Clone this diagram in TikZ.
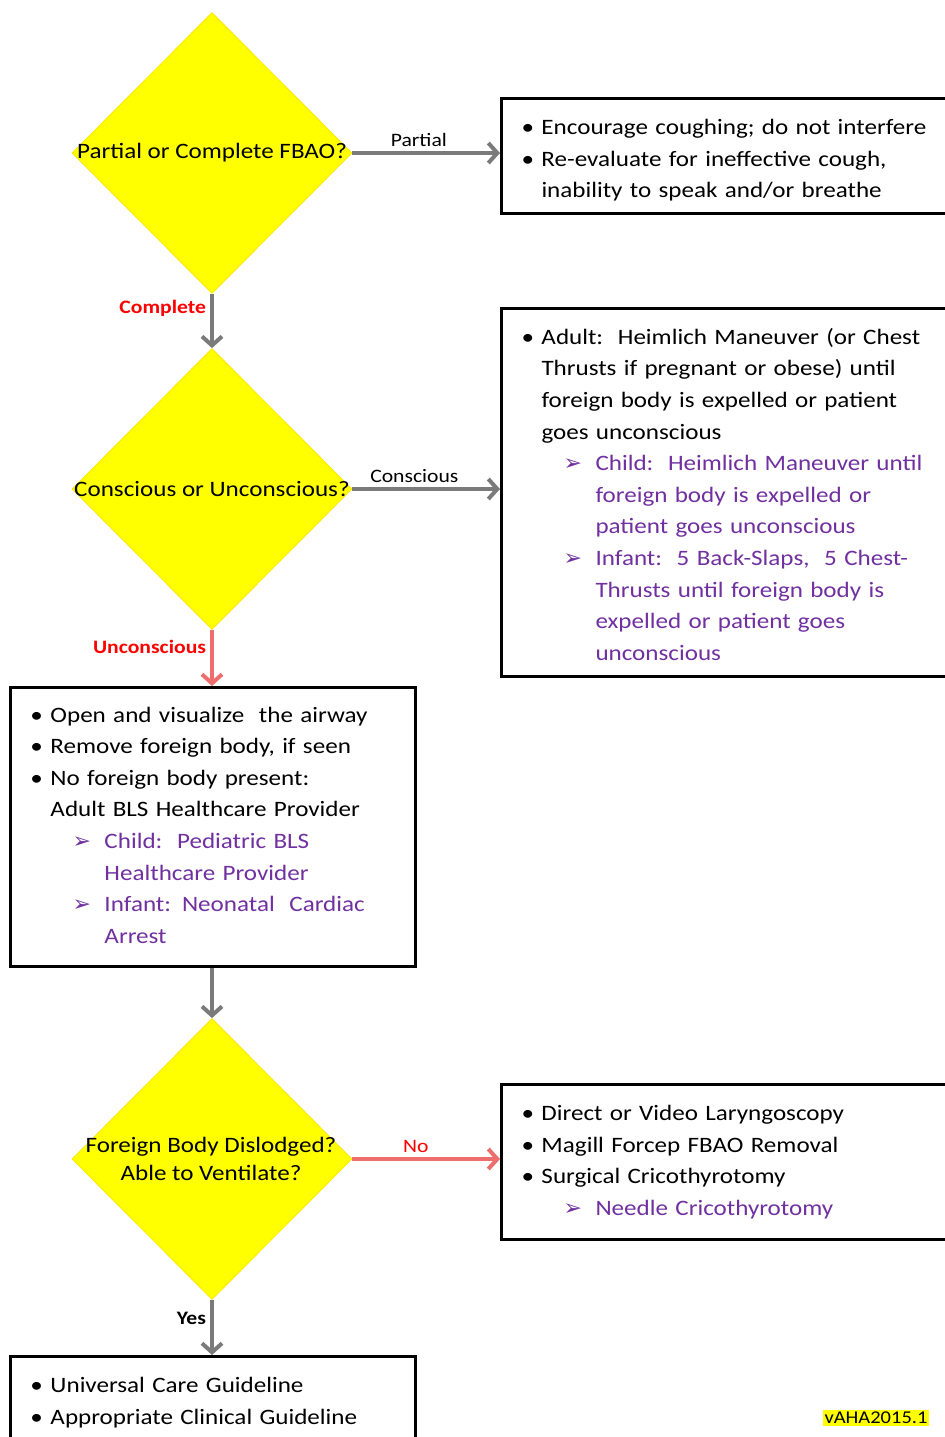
\documentclass[tikz,border=0pt]{standalone}
\usepackage{fontspec}
\setmainfont{Carlito}[FakeStretch=1.14]
\newfontfamily\dejavu{DejaVu Sans}
\usepackage{tikz}
\usetikzlibrary{arrows.meta, positioning, shapes}
\usetikzlibrary{shapes.geometric}
\usepackage{xcolor}
\definecolor{dyellow}{HTML}{FFFF00}
\definecolor{subpurple}{HTML}{7030A0}
\definecolor{arrgray}{HTML}{7A7A7A}
\definecolor{arrred}{HTML}{EE6E6E}
\definecolor{lblred}{HTML}{FF0000}

% bullet and sub-arrow lines
\newcommand\bitem[1]{\par\noindent\hangindent=10pt\hangafter=1\makebox[10pt][l]{\textbullet}#1}
\newcommand\sitem[1]{\par\noindent\hangindent=37pt\hangafter=1\hspace*{21pt}\makebox[16pt][l]{\color{subpurple}\dejavu\fontsize{11}{11}\selectfont ➢}{\color{subpurple}#1}}
\newcommand\boxend[1]{\par\kern#1}

\begin{document}
\begin{tikzpicture}[x=0.5pt, y=-0.5pt,
	box/.style={draw, line width=1.5pt, anchor=north west, inner xsep=10pt, inner ysep=0pt, align=left, font=\fontsize{11}{15.8}\selectfont},
	dia/.style={diamond, fill=dyellow, draw=dyellow!80!orange, line width=0.4pt, inner sep=0pt, minimum width=140pt, minimum height=140.5pt},
	diatext/.style={font=\fontsize{11}{14}\selectfont, align=center, inner sep=0pt},
	arr/.style={draw=arrgray, line width=2pt, -{Straight Barb[length=4.5pt, width=10pt]}},
	redarr/.style={draw=arrred, line width=2pt, -{Straight Barb[length=4.5pt, width=10pt]}},
	lbl/.style={font=\fontsize{9.5}{10}\selectfont, inner sep=2pt}
	]
	
	\useasboundingbox (0, 0) rectangle (945, 1437);
	
	% Question 1
	\node[dia] (q1) at (212, 153) {};
	\node[diatext] (q1t) at (q1) {Partial or Complete FBAO?};
	
	\node[box, text width=240pt, minimum height=57.5pt] (partbox) at (500, 97) {%
		\bitem{Encourage coughing; do not interfere}
		\bitem{Re-evaluate for ineffective cough,\newline inability to speak and/or breathe}
		\boxend{4pt}};
	
	% Question 2
	\node[dia] (q2) at (212, 489) {};
	\node[diatext] (q2t) at (q2) {Conscious or Unconscious?};
	
	\node[box, text width=240pt, minimum height=184pt] (conbox) at (500, 307) {%
		\bitem{Adult:\ \ Heimlich Maneuver (or Chest\newline Thrusts if pregnant or obese) until\newline foreign body is expelled or patient\newline goes unconscious}
		\sitem{Child:\ \ Heimlich Maneuver until\newline foreign body is expelled or\newline patient goes unconscious}
		\sitem{Infant:\ \ 5 Back-Slaps,\ \ 5 Chest-\newline Thrusts until foreign body is\newline expelled or patient goes\newline unconscious}
		\boxend{6pt}};
	
	% Unconscious
	\node[box, text width=182.5pt, minimum height=139.5pt] (airbox) at (9, 686) {%
		\bitem{Open and visualize\ \ the airway}
		\bitem{Remove foreign body, if seen}
		\bitem{No foreign body present:\newline Adult BLS Healthcare Provider}
		\sitem{Child:\ \ Pediatric BLS\newline Healthcare Provider}
		\sitem{Infant: Neonatal\ \ Cardiac\newline Arrest}
		\boxend{10pt}};
	
	% Question 3
	\node[dia] (q3) at (212, 1159) {};
	\node[diatext] (q3t) at (211, 1159) {Foreign Body Dislodged?\\Able to Ventilate?};
	
	\node[box, text width=240pt, minimum height=77.5pt] (surgbox) at (500, 1083) {%
		\bitem{Direct or Video Laryngoscopy}
		\bitem{Magill Forcep FBAO Removal}
		\bitem{Surgical Cricothyrotomy}
		\sitem{Needle Cricothyrotomy}
		\boxend{8pt}};
	
	\node[box, text width=182.5pt, minimum height=46pt] (carebox) at (9, 1355) {%
		\bitem{Universal Care Guideline}
		\bitem{Appropriate Clinical Guideline}
		\boxend{8pt}};
	
	% version tag
	\node[fill=dyellow, inner sep=1pt, font=\fontsize{9}{10}\selectfont] (ver) at (876, 1418) {vAHA2015.1};
	
	% connectors
	\draw[arr] (q1.east) -- node[lbl, above, pos=0.45] {Partial} (q1.east -| partbox.west);
	\draw[arr] (q1.south) -- node[lbl, left, pos=0.27, text=lblred, font=\fontsize{9.5}{10}\selectfont\bfseries] {Complete} (q2.north);
	\draw[arr] (q2.east) -- node[lbl, above, pos=0.42] {Conscious} (q2.east -| conbox.west);
	\draw[redarr] (q2.south) -- node[lbl, left, pos=0.3, text=lblred, font=\fontsize{9.5}{10}\selectfont\bfseries] {Unconscious} (q2.south |- airbox.north);
	\draw[arr] (q3.north |- airbox.south) -- (q3.north);
	\draw[redarr] (q3.east) -- node[lbl, above, pos=0.43, text=lblred] {No} (q3.east -| surgbox.west);
	\draw[arr] (q3.south) -- node[lbl, left, pos=0.33, font=\fontsize{9.5}{10}\selectfont\bfseries] {Yes} (q3.south |- carebox.north);
	
\end{tikzpicture}
\end{document}
